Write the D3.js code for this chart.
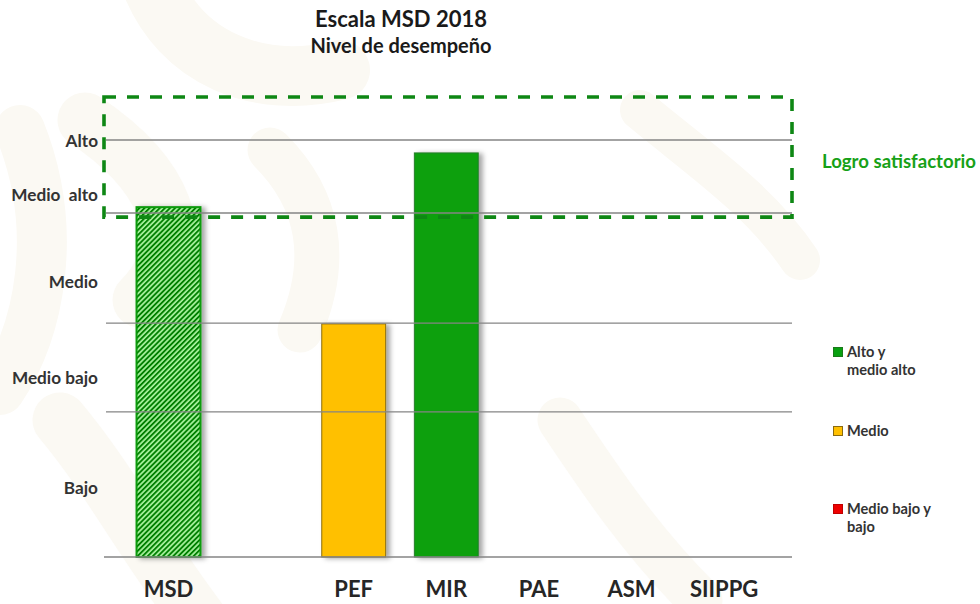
<!DOCTYPE html>
<html><head><meta charset="utf-8">
<script src="https://cdn.jsdelivr.net/npm/d3@7"></script>
<style>
html,body{margin:0;padding:0;background:#fff;}
svg{display:block;font-family:Lato,"Open Sans",sans-serif;}
</style></head>
<body>
<svg id="chart" width="980" height="604"></svg>
<script>
// ---- data ----
const categories = ["MSD", " ", "PEF", "MIR", "PAE", "ASM", "SIIPPG"];
const scores = [83.9, null, 55.9, 96.9, null, null, null];
const barKinds = ["pattern", null, "medio", "alto", null, null, null];
const gridValues = [0, 34.8, 56.1, 82.5, 100];
const levelLabels = ["Bajo", "Medio bajo", "Medio", "Medio  alto", "Alto"];
const levelLabelValues = [16.5, 42.9, 65.9, 86.8, 99.8];
const goalRange = [81.5, 110.3];
const legendLines = [["Alto y", "medio alto"], ["Medio"], ["Medio bajo y", "bajo"]];
const legendColors = ["#08a010", "#ffc000", "#ee0000"];
const legendStrokes = ["#1a7a1a", "#8a6a10", "#c00000"];
const title = "Escala MSD 2018";
const subtitle = "Nivel de desempeño";
const goalLabel = "Logro satisfactorio";

const svg = d3.select("#chart");
const defs = svg.append("defs");

// watermark
const wm = svg.append("g").attr("fill", "none").attr("stroke", "#fbf9f3")
  .attr("stroke-linecap", "round");
[
  ["M150,-20 C180,60 260,90 340,70", 60],
  ["M85,120 C160,170 200,240 140,300", 55],
  ["M20,130 C60,230 40,330 0,390", 50],
  ["M60,420 C110,480 140,540 200,620", 55],
  ["M270,150 C320,200 330,260 300,330", 45],
  ["M560,420 C600,480 640,540 700,600", 45],
  ["M640,110 C700,160 760,200 800,260", 40]
].forEach(([d, w]) => wm.append("path").attr("d", d).attr("stroke-width", w));

// pattern
const pat = defs.append("pattern").attr("id", "stripes").attr("patternUnits", "userSpaceOnUse")
  .attr("width", 3.6).attr("height", 3.6).attr("patternTransform", "rotate(45)");
pat.append("rect").attr("width", 3.6).attr("height", 3.6).attr("fill", "#a8f29e");
pat.append("rect").attr("width", 1.9).attr("height", 3.6).attr("fill", "#038003");

const filt = defs.append("filter").attr("id", "shadow").attr("x", "-20%").attr("y", "-10%")
  .attr("width", "160%").attr("height", "130%");
filt.append("feDropShadow").attr("dx", 4).attr("dy", 1).attr("stdDeviation", 2.5)
  .attr("flood-color", "#000").attr("flood-opacity", 0.35);

const x = d3.scaleBand().domain(categories).range([122.2, 770.4])
  .paddingInner(0.31).paddingOuter(0.155);
const y = d3.scaleLinear().domain([0, 100]).range([557, 140]);

// bars
const fills = { pattern: "url(#stripes)", medio: "#ffc000", alto: "#07a00f" };
const strokes = { pattern: "#0a9a0a", medio: "#8c6e12", alto: "#2a7d2a" };
const strokeW = { pattern: 2, medio: 1, alto: 1 };
const barData = categories.map((c, i) => ({ c, v: scores[i], k: barKinds[i] })).filter(d => d.v != null);
svg.append("g").selectAll("rect").data(barData).join("rect")
  .attr("x", d => x(d.c)).attr("width", x.bandwidth())
  .attr("y", d => y(d.v)).attr("height", d => y(0) - y(d.v))
  .attr("fill", d => fills[d.k]).attr("stroke", d => strokes[d.k])
  .attr("stroke-width", d => strokeW[d.k]).attr("filter", "url(#shadow)");

// gridlines
svg.append("g").selectAll("line").data(gridValues).join("line")
  .attr("x1", d => d === 0 ? 104 : 106).attr("x2", 792)
  .attr("y1", d => y(d)).attr("y2", d => y(d))
  .attr("stroke", "#858585").attr("stroke-width", 1.3);

// goal dashed box
svg.append("rect").attr("x", 104).attr("width", 792 - 104)
  .attr("y", y(goalRange[1])).attr("height", y(goalRange[0]) - y(goalRange[1]))
  .attr("fill", "none").attr("stroke", "#0e8714").attr("stroke-width", 3.6)
  .attr("stroke-dasharray", "12,11");

svg.append("text").attr("x", 822).attr("y", 168).text(goalLabel)
  .attr("font-size", 18.6).attr("font-weight", 700).attr("fill", "#17a117");

// level labels
svg.append("g").selectAll("text").data(levelLabels).join("text")
  .attr("x", 98).attr("y", (d, i) => y(levelLabelValues[i])).attr("dy", "0.35em")
  .attr("text-anchor", "end").style("white-space", "pre")
  .attr("font-size", 17.2).attr("font-weight", 700).attr("fill", "#333")
  .text(d => d);

// category labels
const xAxis = svg.append("g").attr("transform", "translate(0,557)")
  .call(d3.axisBottom(x).tickSize(0).tickPadding(0));
xAxis.select(".domain").remove();
xAxis.selectAll("text").attr("y", 40).attr("dy", 0).attr("font-size", 22)
  .attr("font-weight", 700).attr("fill", "#262626").attr("font-family", "Lato,sans-serif");

// title
svg.append("text").attr("x", 401).attr("y", 27).attr("text-anchor", "middle")
  .attr("font-size", 22).attr("font-weight", 700).attr("fill", "#1a1a1a").text(title);
svg.append("text").attr("x", 401).attr("y", 53).attr("text-anchor", "middle")
  .attr("font-size", 20).attr("font-weight", 700).attr("fill", "#1a1a1a").text(subtitle);

// legend
const lg = svg.append("g").attr("transform", "translate(833,347)");
const legendY = [0, 79, 157];
legendLines.forEach((lines, i) => {
  lg.append("rect").attr("x", 0.5).attr("y", legendY[i] + 0.5).attr("width", 9).attr("height", 9)
    .attr("fill", legendColors[i]).attr("stroke", legendStrokes[i]).attr("stroke-width", 1);
  lines.forEach((t, j) => {
    lg.append("text").attr("x", 14).attr("y", legendY[i] + 10 + j * 18)
      .attr("font-size", 14.6).attr("font-weight", 700).attr("fill", "#333").text(t);
  });
});
</script>
</body></html>
